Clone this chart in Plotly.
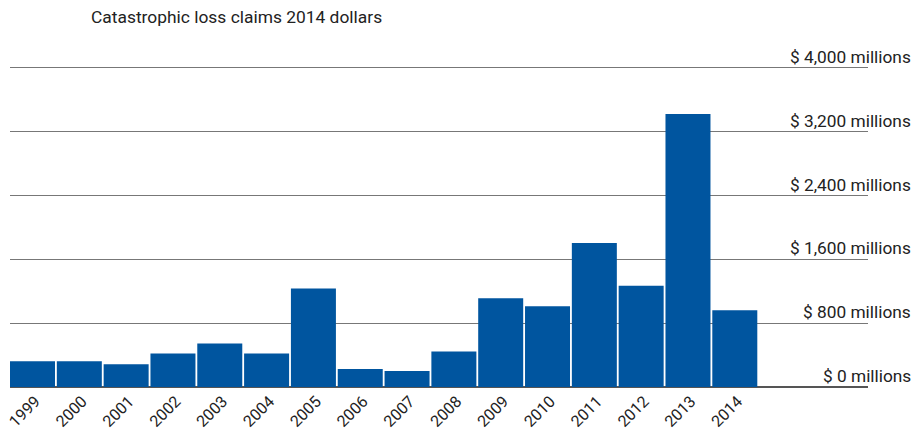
import plotly.graph_objects as go

years = ["1999", "2000", "2001", "2002", "2003", "2004", "2005", "2006",
         "2007", "2008", "2009", "2010", "2011", "2012", "2013", "2014"]
claims = [322, 322, 285, 419, 545, 419, 1235, 226,
          201, 444, 1113, 1013, 1805, 1268, 3423, 963]
grid_values = [0, 800, 1600, 2400, 3200, 4000]
grid_labels = ["$ 0 millions", "$ 800 millions", "$ 1,600 millions",
               "$ 2,400 millions", "$ 3,200 millions", "$ 4,000 millions"]
title_text = "Catastrophic loss claims 2014 dollars"

W, H = 917, 431
ml, mr, mt, mb = 10, 49, 60, 44
pw = W - ml - mr

step = 46.82
first_center = 32.5
x_lo = -(first_center - ml) / step
x_hi = (W - mr - first_center) / step

fig = go.Figure()
fig.add_trace(go.Bar(
    x=years, y=claims,
    marker=dict(color="#00559F", line=dict(width=0)),
    hoverinfo="x+y",
))

annotations = []
for v, lab in zip(grid_values, grid_labels):
    annotations.append(dict(
        x=(913 - ml) / pw, xref="paper", y=v, yref="y",
        text=lab, showarrow=False, xanchor="right", yanchor="bottom",
        yshift=-1, font=dict(family="Roboto", size=17.3, color="#222"),
    ))

fig.update_layout(
    width=W, height=H,
    margin=dict(l=ml, r=mr, t=mt, b=mb, autoexpand=False),
    paper_bgcolor="white", plot_bgcolor="white",
    showlegend=False,
    bargap=0.039,
    font=dict(family="Roboto", size=16, color="#222"),
    title=dict(text=title_text, xref="container", yref="container",
               x=91 / W, xanchor="left", y=1 - 17 / H, yanchor="middle",
               font=dict(family="Roboto", size=17.4, color="#222")),
    xaxis=dict(
        type="category", range=[x_lo, x_hi],
        tickangle=-45, showgrid=False, showline=False, ticks="",
        tickfont=dict(family="Roboto", size=16, color="#222"),
        ticklabelstandoff=1, ticklabelshift=3,
        automargin=False, fixedrange=True,
    ),
    yaxis=dict(
        range=[0, 4100], tickvals=grid_values, showticklabels=False,
        showgrid=True, gridcolor="#777", gridwidth=1,
        zeroline=True, zerolinecolor="#555", zerolinewidth=1.5,
        showline=False, ticks="", automargin=False, fixedrange=True,
    ),
    annotations=annotations,
)

fig.write_html(
    "out.html",
    config={"displayModeBar": False},
    post_script="document.body.style.margin='0';document.body.style.overflow='hidden';",
)
